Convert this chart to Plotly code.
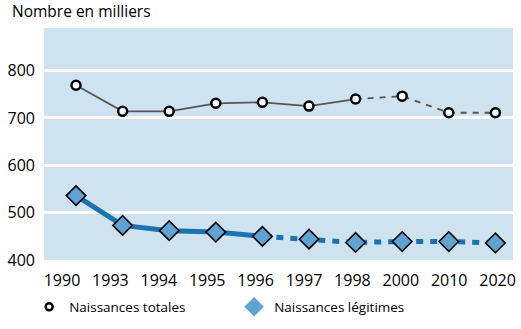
import plotly.graph_objects as go

years = ["1990", "1993", "1994", "1995", "1996", "1997", "1998", "2000", "2010", "2020"]
totales = [769, 714, 714, 731, 733, 725, 740, 746, 711, 711]
legitimes = [536, 473, 462, 459, 450, 444, 437, 439, 439, 436]
y_ticks = [400, 500, 600, 700, 800]

idx = list(range(len(years)))
solid_tot_end = 6   # index of 1998
solid_leg_end = 4   # index of 1996

FONT = "Open Sans"
fig = go.Figure()

# Naissances totales (solid then dashed)
fig.add_trace(go.Scatter(x=idx[:solid_tot_end + 1], y=totales[:solid_tot_end + 1], mode="lines",
                         line=dict(color="#555555", width=1.8), showlegend=False, hoverinfo="skip"))
fig.add_trace(go.Scatter(x=idx[solid_tot_end:], y=totales[solid_tot_end:], mode="lines",
                         line=dict(color="#555555", width=1.8, dash="6px,6px"), showlegend=False, hoverinfo="skip"))
fig.add_trace(go.Scatter(x=idx, y=totales, mode="markers", name="Naissances totales",
                         marker=dict(symbol="circle", size=9, color="white", line=dict(color="black", width=2.5)),
                         showlegend=False))

# Naissances légitimes
fig.add_trace(go.Scatter(x=idx[:solid_leg_end + 1], y=legitimes[:solid_leg_end + 1], mode="lines",
                         line=dict(color="#1b72b0", width=5), showlegend=False, hoverinfo="skip"))
fig.add_trace(go.Scatter(x=idx[solid_leg_end:], y=legitimes[solid_leg_end:], mode="lines",
                         line=dict(color="#1b72b0", width=5, dash="7px,7px"), showlegend=False, hoverinfo="skip"))
fig.add_trace(go.Scatter(x=idx, y=legitimes, mode="markers", name="Naissances légitimes",
                         marker=dict(symbol="diamond", size=15, color="#5fa3d2", line=dict(color="black", width=1.6)),
                         showlegend=False))

# legend entries
fig.add_trace(go.Scatter(x=[None], y=[None], mode="markers", name="Naissances totales",
                         marker=dict(symbol="circle", size=7, color="white", line=dict(color="black", width=2.5))))
fig.add_trace(go.Scatter(x=[None], y=[None], mode="markers", name="Naissances légitimes",
                         marker=dict(symbol="diamond", size=15, color="#5fa3d2", line=dict(color="#5fa3d2", width=0))))

# invisible trace on label axis
fig.add_trace(go.Scatter(x=[0, 9], y=[None, None], xaxis="x2", mode="markers", showlegend=False,
                         marker=dict(opacity=0), hoverinfo="skip"))

fig.update_layout(
    width=521, height=329,
    margin=dict(l=44, r=8, t=28, b=69, autoexpand=False),
    paper_bgcolor="white",
    plot_bgcolor="#cfe2f0",
    font=dict(family=FONT, color="black", size=16),
    xaxis=dict(range=[-0.687, 9.378], showticklabels=False, showgrid=False, zeroline=False,
               showline=False, ticks=""),
    xaxis2=dict(range=[-0.372, 9.318], overlaying="x", anchor="y", side="bottom",
                tickvals=idx, ticktext=years, showgrid=False, zeroline=False, showline=False,
                ticks="", ticklabelstandoff=9, tickfont=dict(size=16, family=FONT)),
    yaxis=dict(range=[400, 890], tickvals=y_ticks, showgrid=True, gridcolor="white", gridwidth=2.5,
               zeroline=False, showline=False, ticks="", ticklabelstandoff=8,
               tickfont=dict(size=16, family=FONT)),
    legend=dict(orientation="h", x=-0.0317, xanchor="left", y=-0.2026,
                yanchor="middle", font=dict(size=13.5, family=FONT), entrywidth=160,
                entrywidthmode="pixels", bgcolor="rgba(0,0,0,0)", itemsizing="trace"),
    annotations=[dict(text="Nombre en milliers", xref="paper", yref="paper", x=-0.0715, y=1.0,
                      xanchor="left", yanchor="bottom", yshift=4, showarrow=False,
                      font=dict(size=15.5, family=FONT))],
    showlegend=True,
)

fig.write_html("out.html")
